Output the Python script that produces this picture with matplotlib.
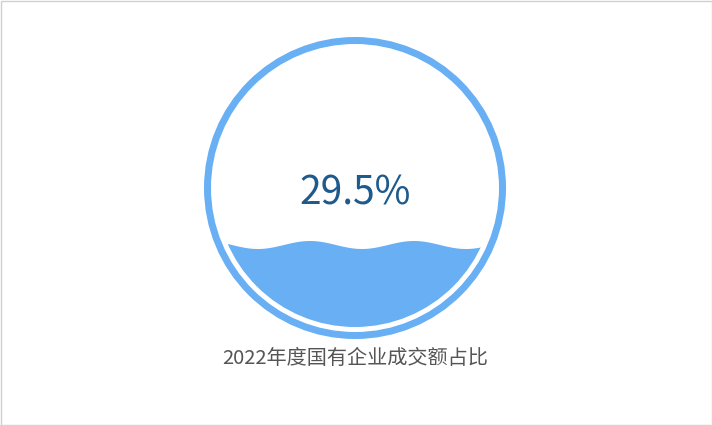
import numpy as np
import matplotlib
matplotlib.use("Agg")
import matplotlib.pyplot as plt
from matplotlib.patches import Circle, Rectangle

plt.rcParams['font.family'] = ['Noto Sans CJK SC', 'DejaVu Sans']

# data
value = 0.295
value_label = "29.5%"
title = "2022年度国有企业成交额占比"

fill_color = '#69aff4'
text_color = '#1e5a8c'

fig = plt.figure(figsize=(7.12, 4.25), dpi=100)
ax = fig.add_axes([0, 0, 1, 1])
ax.set_xlim(0, 712)
ax.set_ylim(425, 0)
ax.axis('off')

# light frame around the canvas
ax.add_patch(Rectangle((0.5, 0.5), 711, 424, fill=False, edgecolor='#d0d0d0', lw=1))

cx, cy = 355, 188
r_in = 139

# outer ring
ax.add_patch(Circle((cx, cy), 147.5, fill=False, edgecolor=fill_color, lw=7 * 0.72))

# wave inside the inner circle
level = cy + r_in - 2 * r_in * value
xs = np.linspace(cx - r_in - 5, cx + r_in + 5, 400)
ys = level - 4 * np.cos(2 * np.pi * (xs - 310) / 104)
px = np.concatenate([xs, [xs[-1], xs[0]]])
py = np.concatenate([ys, [cy + r_in + 10, cy + r_in + 10]])
wave = ax.fill(px, py, color=fill_color, lw=0)[0]
clip = Circle((cx, cy), r_in, transform=ax.transData)
wave.set_clip_path(clip)

ax.text(cx, 193, value_label, ha='center', va='center', fontsize=28,
        color=text_color, fontweight='light')
ax.text(cx, 359, title, ha='center', va='center', fontsize=14.5,
        color='#555555')

fig.savefig("out.png", dpi=100)
